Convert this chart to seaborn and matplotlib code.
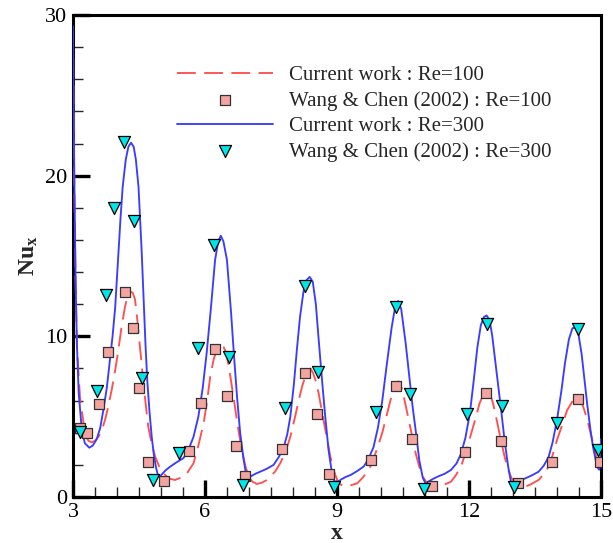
import numpy as np
import pandas as pd
import matplotlib
matplotlib.use("Agg")
import matplotlib.pyplot as plt
import seaborn as sns
from matplotlib.ticker import MultipleLocator

# ---- data ----
x_cw300 = [3.00, 3.03, 3.06, 3.09, 3.13, 3.20, 3.27, 3.37, 3.45, 3.54, 3.62, 3.69, 3.77, 3.84, 3.90,
           3.96, 4.03, 4.08, 4.13, 4.20, 4.26, 4.32, 4.38, 4.43, 4.49, 4.56, 4.61, 4.65, 4.69, 4.74,
           4.79, 4.84, 4.89, 4.94, 5.00, 5.10, 5.21, 5.35, 5.51, 5.62, 5.74, 5.85, 5.95, 6.04, 6.13,
           6.23, 6.30, 6.36, 6.42, 6.50, 6.59, 6.66, 6.73, 6.80, 6.88, 6.93, 6.98, 7.05, 7.15, 7.26,
           7.40, 7.56, 7.68, 7.79, 7.87, 7.94, 8.02, 8.09, 8.16, 8.24, 8.31, 8.38, 8.45, 8.52, 8.59,
           8.66, 8.73, 8.81, 8.88, 8.94, 9.00, 9.10, 9.20, 9.31, 9.45, 9.61, 9.72, 9.83, 9.93, 10.03,
           10.13, 10.24, 10.32, 10.39, 10.46, 10.56, 10.64, 10.72, 10.80, 10.87, 10.95, 11.02, 11.10,
           11.20, 11.29, 11.45, 11.59, 11.72, 11.82, 11.92, 12.02, 12.11, 12.19, 12.27, 12.34, 12.40,
           12.47, 12.53, 12.60, 12.67, 12.74, 12.81, 12.89, 12.95, 13.00, 13.10, 13.18, 13.28, 13.43,
           13.58, 13.70, 13.81, 13.90, 14.00, 14.10, 14.18, 14.27, 14.35, 14.42, 14.49, 14.56, 14.62,
           14.69, 14.76, 14.82, 14.88, 14.93, 14.96, 14.98, 15.00]
y_cw300 = [29.3, 20.0, 13.5, 9.5, 6.5, 4.2, 3.35, 3.07, 3.2, 3.6, 4.3, 5.4, 6.8, 8.5, 10.0,
           11.8, 15.0, 17.3, 19.3, 21.0, 21.8, 22.05, 21.8, 21.0, 19.3, 15.4, 12.0, 9.4, 7.2, 5.3,
           3.75, 2.6, 1.8, 1.27, 1.35, 1.65, 1.89, 2.15, 2.42, 2.9, 3.75, 5.0, 6.8, 9.0, 11.6,
           14.75, 15.9, 16.26, 15.9, 14.75, 11.6, 8.8, 6.2, 4.0, 2.3, 1.5, 1.1, 1.3, 1.45, 1.58,
           1.75, 2.0, 2.5, 3.1, 3.9, 5.0, 7.0, 9.2, 11.2, 12.8, 13.5, 13.7, 13.4, 12.0, 9.6,
           7.3, 5.1, 2.9, 1.6, 1.0, 0.89, 1.1, 1.25, 1.37, 1.6, 1.9, 2.4, 3.1, 4.3, 6.0,
           8.2, 10.5, 11.8, 12.2, 11.7, 9.6, 7.6, 5.6, 3.9, 2.3, 1.2, 0.81, 1.0,
           1.15, 1.27, 1.45, 1.68, 2.1, 2.7, 3.7, 5.2, 7.3, 9.3, 10.7, 11.2, 11.3,
           11.0, 10.0, 8.4, 6.8, 5.2, 3.5, 1.9, 1.0, 0.75, 0.95, 1.05, 1.16, 1.35,
           1.57, 1.95, 2.5, 3.4, 4.8, 6.6, 8.3, 9.8, 10.5, 10.55, 10.1, 8.9, 7.4,
           5.7, 4.2, 3.1, 2.3, 1.8, 1.7, 2.2, 3.6]

x_cw100 = [3.00, 3.03, 3.06, 3.09, 3.16, 3.27, 3.35, 3.43, 3.50, 3.58, 3.66, 3.73, 3.80, 3.88, 3.96, 4.03,
           4.10, 4.18, 4.24, 4.30, 4.36, 4.41, 4.45, 4.49, 4.55, 4.60, 4.66, 4.71, 4.79, 4.87, 4.96,
           5.06, 5.18, 5.32, 5.45, 5.59, 5.67, 5.74, 5.85, 5.97, 6.05, 6.12, 6.20, 6.28, 6.35, 6.42,
           6.48, 6.55, 6.61, 6.69, 6.77, 6.85, 6.92, 7.00, 7.08, 7.18, 7.30, 7.40, 7.48, 7.60, 7.71,
           7.83, 7.94, 8.04, 8.13, 8.21, 8.28, 8.34, 8.40, 8.46, 8.52, 8.58, 8.68, 8.78, 8.85, 8.92,
           9.00, 9.07, 9.15, 9.30, 9.46, 9.60, 9.76, 9.90, 10.03, 10.15, 10.26, 10.33, 10.40, 10.47,
           10.53, 10.60, 10.70, 10.79, 10.87, 10.95, 11.05, 11.15, 11.25, 11.42, 11.59, 11.70, 11.82,
           11.94, 12.05, 12.15, 12.24, 12.33, 12.40, 12.46, 12.55, 12.63, 12.72, 12.81, 12.89, 12.97,
           13.08, 13.24, 13.40, 13.58, 13.70, 13.81, 13.90, 14.00, 14.12, 14.23, 14.36, 14.46, 14.53,
           14.61, 14.69, 14.77, 14.84, 14.90, 14.95, 14.98, 15.00]
y_cw100 = [29.0, 19.6, 13.3, 9.4, 6.2, 4.0, 3.5, 3.4, 3.5, 3.75, 4.2, 4.8, 5.6, 6.66, 7.9, 9.1,
           10.5, 11.8, 12.5, 12.8, 12.7, 12.3, 11.4, 10.2, 8.6, 7.1, 5.6, 4.4, 3.3, 2.5, 1.9,
           1.47, 1.15, 1.06, 1.2, 1.47, 1.8, 2.1, 3.2, 4.6, 6.0, 7.5, 8.6, 9.2, 9.4, 9.35,
           9.0, 8.0, 6.9, 5.4, 4.0, 2.8, 1.9, 1.25, 0.95, 0.81, 0.9, 1.05, 1.27, 1.6, 2.1,
           2.8, 3.75, 4.9, 6.0, 6.9, 7.5, 7.9, 8.0, 7.7, 7.2, 6.5, 5.0, 3.55, 2.5, 1.7,
           1.1, 0.8, 0.68, 0.72, 0.85, 1.25, 1.9, 2.9, 4.0, 5.3, 6.5, 7.0, 7.2, 6.8,
           6.1, 5.2, 3.9, 2.7, 1.9, 1.27, 0.85, 0.65, 0.6, 0.75, 0.95, 1.35, 1.9,
           2.9, 3.96, 4.9, 5.83, 6.4, 6.65, 6.6, 5.8, 4.8, 3.6, 2.5, 1.7, 1.16,
           0.8, 0.6, 0.78, 1.06, 1.4, 1.9, 2.6, 3.55, 4.5, 5.4, 6.0, 6.24, 6.1,
           5.5, 4.8, 3.9, 3.1, 2.4, 2.0, 2.3, 3.0]

x_wc100 = [3.17, 3.31, 3.59, 3.80, 4.18, 4.36, 4.51, 4.70, 5.07, 5.64, 5.91, 6.23, 6.51, 6.70, 6.92,
           7.75, 8.27, 8.55, 8.83, 9.78, 10.34, 10.70, 11.17, 11.92, 12.39, 12.72, 13.11, 13.89,
           14.47, 14.97]
y_wc100 = [4.31, 4.0, 5.79, 9.04, 12.78, 10.5, 6.76, 2.16, 1.01, 2.88, 5.83, 9.2, 6.29, 3.19, 1.31,
           2.96, 7.74, 5.18, 1.41, 2.30, 6.93, 3.59, 0.71, 2.82, 6.45, 3.50, 0.85, 2.16,
           6.10, 2.16]

x_wc300 = [3.16, 3.54, 3.75, 3.93, 4.16, 4.39, 4.56, 4.81, 5.41, 5.85, 6.21, 6.54, 6.86, 7.81, 8.27,
           8.57, 8.94, 9.89, 10.35, 10.65, 10.97, 11.96, 12.42, 12.74, 13.02, 14.00, 14.48, 14.94]
y_wc300 = [4.07, 6.6, 12.6, 18.0, 22.1, 17.2, 7.38, 1.06, 2.76, 9.25, 15.7, 8.69, 0.75, 5.52, 13.13,
           7.76, 0.60, 5.27, 11.8, 6.41, 0.52, 5.15, 10.75, 5.69, 0.60, 4.63, 10.44, 2.92]

labels = ["Current work : Re=100", "Wang & Chen (2002) : Re=100",
          "Current work : Re=300", "Wang & Chen (2002) : Re=300"]
x_ticks = [3, 6, 9, 12, 15]
y_ticks = [0, 10, 20, 30]

# ---- style ----
sns.set_style("ticks")
plt.rcParams["font.family"] = ["Liberation Serif", "DejaVu Serif"]
plt.rcParams["mathtext.fontset"] = "custom"
plt.rcParams["mathtext.rm"] = "Liberation Serif"
plt.rcParams["mathtext.it"] = "Liberation Serif:italic"
plt.rcParams["mathtext.bf"] = "Liberation Serif:bold"

fig = plt.figure(figsize=(6.13, 5.43), dpi=100)
ax = fig.add_axes([0.119, 0.0847, 0.8614, 0.8877])

df100 = pd.DataFrame({"x": x_cw100, "y": y_cw100})
df300 = pd.DataFrame({"x": x_cw300, "y": y_cw300})
dw100 = pd.DataFrame({"x": x_wc100, "y": y_wc100})
dw300 = pd.DataFrame({"x": x_wc300, "y": y_wc300})

sns.lineplot(data=df100, x="x", y="y", ax=ax, color="#FF5050", lw=1.35,
             linestyle=(0, (10, 4.5)), estimator=None, sort=False, label=labels[0], zorder=3)
sns.scatterplot(data=dw100, x="x", y="y", ax=ax, marker="s", s=55, color="#F4A4A0",
                edgecolor="#333333", linewidth=0.9, label=labels[1], zorder=5)
sns.lineplot(data=df300, x="x", y="y", ax=ax, color="#3C3CFF", lw=1.35,
             estimator=None, sort=False, label=labels[2], zorder=4)
sns.scatterplot(data=dw300, x="x", y="y", ax=ax, marker="v", s=75, color="#00E5E8",
                edgecolor="black", linewidth=0.9, label=labels[3], zorder=6)

ax.set_xlim(3, 15)
ax.set_ylim(0, 30)
ax.set_xticks(x_ticks)
ax.set_yticks(y_ticks)
ax.xaxis.set_minor_locator(MultipleLocator(0.5))
ax.yaxis.set_minor_locator(MultipleLocator(2))
ax.tick_params(which="major", direction="in", length=12, width=2.4, labelsize=16,
               top=False, right=False, pad=4, colors="black")
ax.tick_params(which="minor", direction="in", length=7, width=1.0, top=False, right=False)
for sp in ax.spines.values():
    sp.set_linewidth(2.2)
    sp.set_color("black")
    sp.set_visible(True)

ax.set_xlabel("x", fontsize=17, fontweight="bold", labelpad=1)
ax.set_ylabel(r"Nu$_\mathbf{x}$", fontsize=17, fontweight="bold", labelpad=4)

leg = ax.legend(loc="upper left", bbox_to_anchor=(0.177, 0.917), frameon=False, fontsize=15,
                handlelength=4.6, handletextpad=0.8, labelspacing=0.28, borderpad=0,
                scatterpoints=1)

fig.savefig("out.png", dpi=100)
